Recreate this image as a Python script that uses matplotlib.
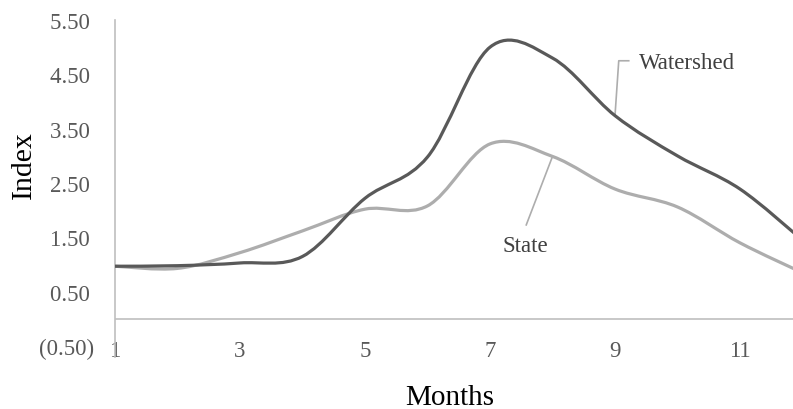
import matplotlib
matplotlib.use("Agg")
import matplotlib.pyplot as plt
from matplotlib.path import Path
from matplotlib.patches import PathPatch
from matplotlib.ticker import FuncFormatter, FixedLocator

plt.rcParams['font.family'] = ['Liberation Serif', 'DejaVu Serif']

# Monthly index values
months = [1, 2, 3, 4, 5, 6, 7, 8, 9, 10, 11, 12]
watershed = [0.97, 0.98, 1.03, 1.15, 2.22, 2.98, 5.00, 4.80, 3.74, 3.00, 2.39, 1.45]
state = [0.97, 0.93, 1.22, 1.62, 2.02, 2.08, 3.22, 2.99, 2.39, 2.06, 1.40, 0.85]

x_ticks = [1, 3, 5, 7, 9, 11]
y_ticks = [-0.5, 0.5, 1.5, 2.5, 3.5, 4.5, 5.5]

DARK = '#595959'
LIGHT = '#ADADAD'
AXIS = '#BFBFBF'
TICK_TXT = '#595959'


def smooth_path(xs, ys, tension=1 / 6):
    """Cubic Bezier path through the points (Catmull-Rom style smoothing)."""
    n = len(xs)
    verts = [(xs[0], ys[0])]
    codes = [Path.MOVETO]
    for i in range(n - 1):
        i0 = max(i - 1, 0)
        i3 = min(i + 2, n - 1)
        c1 = (xs[i] + (xs[i + 1] - xs[i0]) * tension,
              ys[i] + (ys[i + 1] - ys[i0]) * tension)
        c2 = (xs[i + 1] - (xs[i3] - xs[i]) * tension,
              ys[i + 1] - (ys[i3] - ys[i]) * tension)
        verts += [c1, c2, (xs[i + 1], ys[i + 1])]
        codes += [Path.CURVE4] * 3
    return Path(verts, codes)


fig = plt.figure(figsize=(7.93, 4.10), dpi=100)
# plot area: x from month 1 to 12, y from -0.7 to 5.5
ax = fig.add_axes([115 / 793, 1 - 358 / 410, (802.5 - 115) / 793, (358 - 21) / 410])
ax.set_xlim(1, 12)
ax.set_ylim(-0.7, 5.5)

for vals, col in ((state, LIGHT), (watershed, DARK)):
    ax.add_patch(PathPatch(smooth_path(months, vals), facecolor='none',
                           edgecolor=col, lw=2.3, capstyle='round',
                           joinstyle='round', zorder=3))

# horizontal axis crossing at zero
ax.axhline(0, color=AXIS, lw=1.2, zorder=2)

for s in ('top', 'right', 'bottom'):
    ax.spines[s].set_visible(False)
ax.spines['left'].set_color(AXIS)
ax.spines['left'].set_linewidth(1.2)

ax.xaxis.set_major_locator(FixedLocator(x_ticks))
ax.set_xticklabels([str(v) for v in x_ticks])
ax.tick_params(axis='x', length=0, pad=-12.5, labelsize=16.5, labelcolor=TICK_TXT)


def acct(v, pos):
    if v < 0:
        return f"({abs(v):.2f})"
    return f"{v:.2f}\u2009"


ax.yaxis.set_major_locator(FixedLocator(y_ticks))
ax.yaxis.set_major_formatter(FuncFormatter(acct))
ax.tick_params(axis='y', length=0, pad=15, labelsize=16.5, labelcolor=TICK_TXT)

fig.text(24 / 793, 1 - 165 / 410, 'Index', fontsize=21.5, color='black',
         rotation=90, ha='center', va='center')
fig.text(450 / 793, 1 - 398 / 410, 'Months', fontsize=21, color='black',
         ha='center', va='center')

# series labels with leader lines
wx, wy = months[8], watershed[8]
ax.plot([wx, wx + 0.06, wx + 0.22], [wy, 4.75, 4.75], color=LIGHT, lw=1.2, zorder=2)
ax.text(9.38, 4.72, 'Watershed', fontsize=16.5, color='#404040', ha='left', va='center')

sx, sy = months[7], state[7]
ax.plot([sx, 7.58], [sy, 1.73], color=LIGHT, lw=1.2, zorder=2)
ax.text(7.57, 1.36, 'State', fontsize=16.5, color='#404040', ha='center', va='center')

fig.savefig('out.png', dpi=100)
